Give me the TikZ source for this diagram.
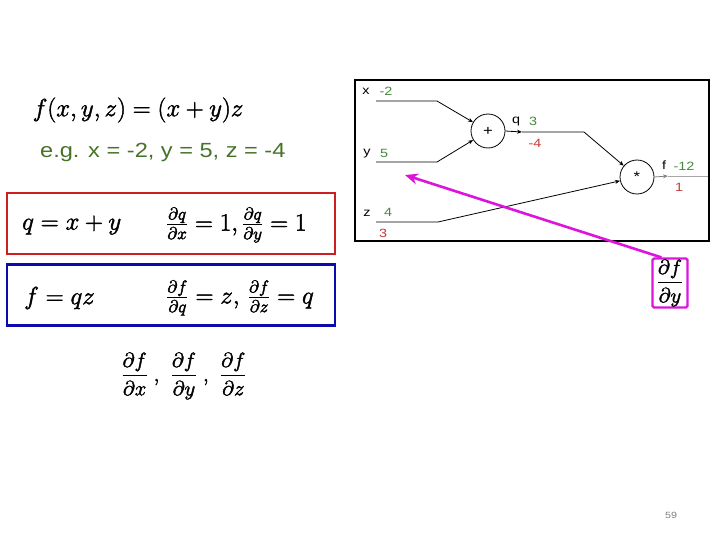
\documentclass[tikz,border=0pt]{standalone}
\usepackage{fontspec}
\usepackage{amsmath}
\newfontfamily\egfont[FakeStretch=1.15]{Liberation Sans}
\newfontfamily\arialf[FakeStretch=1.2]{Liberation Sans}
\usetikzlibrary{arrows.meta}
\newcommand{\heavytext}[1]{\special{pdf:code q 2 Tr 0.45 w}#1\special{pdf:code Q}}
\definecolor{egreen}{RGB}{70,115,40}
\definecolor{lgreen}{RGB}{70,135,60}
\definecolor{lred}{RGB}{200,55,55}
\definecolor{boxred}{RGB}{205,30,35}
\definecolor{boxblue}{RGB}{10,10,175}
\definecolor{mag}{RGB}{220,20,220}
\tikzset{
  gate/.style={circle,draw,line width=0.8pt,minimum size=34pt,inner sep=0pt,font=\arialf\fontsize{14}{14}\selectfont},
  wire/.style={line width=0.8pt,-{Stealth[length=5pt,width=4pt]}},
  plainwire/.style={line width=0.8pt},
  lbl/.style={font=\arialf\fontsize{12}{13}\selectfont,inner sep=0pt},
  gval/.style={lbl,text=lgreen},
  rval/.style={lbl,text=lred},
  mathbox/.style={line width=2.4pt,minimum width=328pt,minimum height=61pt,inner sep=0pt},
  bigmath/.style={font=\fontsize{24}{28}\selectfont,inner sep=0pt},
  magarrow/.style={draw=mag,line width=2.6pt,-{Stealth[length=13pt,width=11pt]}},
}
\begin{document}
\begin{tikzpicture}[x=1pt,y=-1pt]
\useasboundingbox (0,0) rectangle (720,540);
% left side
\node[bigmath] (func) at (138,110) {\heavytext{$f(x,y,z)=(x+y)z$}};
\node[font=\egfont\fontsize{20.5}{24}\selectfont,text=egreen,inner sep=0pt,anchor=west] (eg) at (40,152) {e.g. x = -2, y = 5, z = -4};
\node[mathbox,draw=boxred] (rbox) at (171,223.5) {};
\node[bigmath,anchor=west] (qdef) at (22,225) {\heavytext{$q=x+y$}};
\node[bigmath,anchor=west] (qder) at (166,225) {\heavytext{$\frac{\partial q}{\partial x}=1,\frac{\partial q}{\partial y}=1$}};
\node[mathbox,draw=boxblue] (bbox) at (171,295) {};
\node[bigmath,anchor=west] (fdef) at (24,298) {\heavytext{$f=qz$}};
\node[bigmath,anchor=west] (fder) at (166,298) {\heavytext{$\frac{\partial f}{\partial q}=z,\,\frac{\partial f}{\partial z}=q$}};
\node[font=\fontsize{20}{24}\selectfont,inner sep=0pt] (grads) at (184,376) {\heavytext{$\dfrac{\partial f}{\partial x}\;,\hspace{8pt}\dfrac{\partial f}{\partial y}\;,\hspace{8pt}\dfrac{\partial f}{\partial z}$}};
% graph
\node[draw,line width=1.2pt,minimum width=354pt,minimum height=161pt,inner sep=0pt] (frame) at (532,160.5) {};
\node[gate] (plus) at (488,131) {+};
\node[gate] (mul) at (637,177) {*};
\coordinate (x0) at (376,101); \coordinate (x1) at (437,101);
\coordinate (y0) at (376,162); \coordinate (y1) at (437,162);
\coordinate (z0) at (376,222); \coordinate (z1) at (438,222);
\coordinate (qa) at (522,132); \coordinate (q1) at (584,132);
\coordinate (fa) at (668,176); \coordinate (f1) at (708,176);
\draw[wire] (x0) -- (x1) -- (plus);
\draw[wire] (y0) -- (y1) -- (plus);
\draw[wire] (plus.east) -- (qa);
\draw[wire] (qa) -- (q1) -- (mul);
\draw[wire] (z0) -- (z1) -- (mul);
\draw[wire,draw=gray] (mul.east) -- (fa);
\draw[plainwire,draw=gray!70] (fa) -- (f1);
\node[lbl] (xl) at (366,91) {x};
\node[gval] (xv) at (386,91) {-2};
\node[lbl] (yl) at (367,154) {y};
\node[gval] (yv) at (384,153) {5};
\node[lbl] (zl) at (367,213) {z};
\node[gval] (zv) at (388,212) {4};
\node[rval] (zg) at (383,233) {3};
\node[lbl] (ql) at (516,122) {q};
\node[gval] (qv) at (533,121) {3};
\node[rval] (qg) at (535,143) {-4};
\node[lbl] (fl) at (664,165) {f};
\node[gval] (fv) at (684,166) {-12};
\node[rval] (fg) at (679,187) {1};
% highlighted derivative
\node[draw=mag,line width=2.2pt,rounded corners=1.5pt,minimum width=35pt,minimum height=49pt,inner sep=0pt,font=\fontsize{20}{24}\selectfont] (dfy) at (670,283) {\heavytext{$\dfrac{\partial f}{\partial y}$}};
\coordinate (ytarget) at (405,175);
\draw[magarrow] ([xshift=10pt]dfy.north west) -- (ytarget);
\node[font=\arialf\fontsize{9}{10}\selectfont,text=gray,inner sep=0pt] (pg) at (671,515) {59};
\end{tikzpicture}
\end{document}
